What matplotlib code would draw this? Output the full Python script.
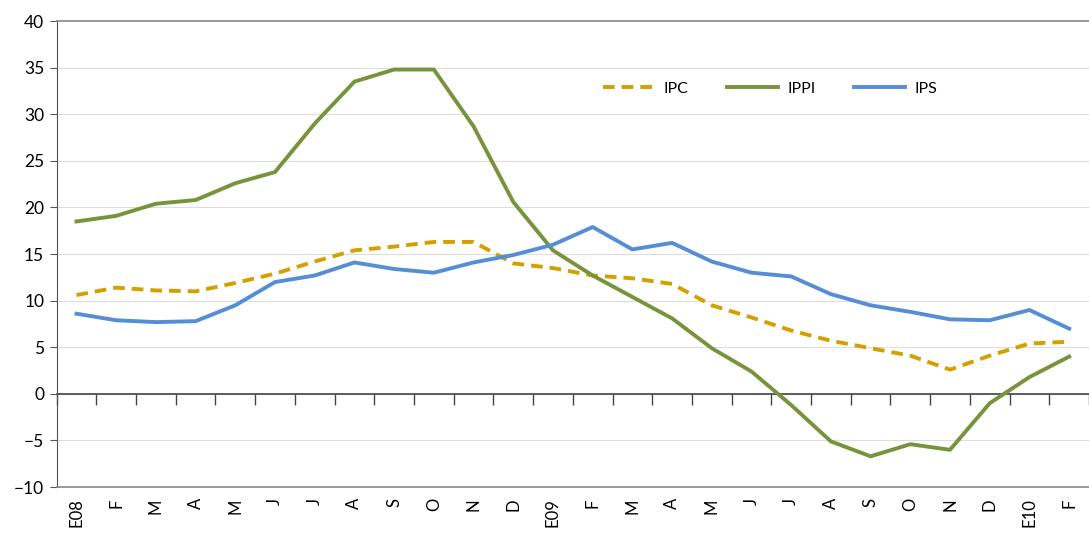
import matplotlib
matplotlib.use("Agg")
import matplotlib.pyplot as plt
import numpy as np

# monthly categories, Jan 2008 .. Feb 2010
months = ["E08", "F", "M", "A", "M", "J", "J", "A", "S", "O", "N", "D",
          "E09", "F", "M", "A", "M", "J", "J", "A", "S", "O", "N", "D",
          "E10", "F"]

ipc = [10.6, 11.4, 11.1, 11.0, 11.9, 12.9, 14.2, 15.4, 15.8, 16.3, 16.3, 14.0,
       13.5, 12.7, 12.4, 11.8, 9.5, 8.2, 6.8, 5.7, 4.9, 4.1, 2.6, 4.1,
       5.4, 5.6]
ippi = [18.5, 19.1, 20.4, 20.8, 22.6, 23.8, 29.0, 33.5, 34.8, 34.8, 28.7, 20.6,
        15.4, 12.7, 10.4, 8.1, 4.9, 2.4, -1.2, -5.1, -6.7, -5.4, -6.0, -1.0,
        1.8, 4.0]
ips = [8.6, 7.9, 7.7, 7.8, 9.5, 12.0, 12.7, 14.1, 13.4, 13.0, 14.1, 14.9,
       16.0, 17.9, 15.5, 16.2, 14.2, 13.0, 12.6, 10.7, 9.5, 8.8, 8.0, 7.9,
       9.0, 7.0]

plt.rcParams['font.family'] = ['Lato', 'DejaVu Sans']

fig = plt.figure(figsize=(10.89, 5.40), dpi=100)
ax = fig.add_axes([0.052, 0.098, 0.948, 0.863])

x = np.arange(len(months))
ax.plot(x, ipc, color="#D4A000", lw=2.8, dashes=(3.0, 1.8), label="IPC")
ax.plot(x, ippi, color="#77933C", lw=2.8, label="IPPI")
ax.plot(x, ips, color="#558ED5", lw=2.8, label="IPS")

ax.set_xlim(-0.5, len(months) - 0.5)
ax.set_ylim(-10, 40)
ax.set_yticks(range(-10, 41, 5))
ax.tick_params(axis="y", labelsize=12.5, length=5, color="#555555", pad=4)
for y in range(-5, 40, 5):
    ax.axhline(y, color="#dddddd", lw=0.8, zorder=0)

ax.set_xticks(x)
ax.set_xticklabels(months, rotation=90, fontsize=12)
ax.tick_params(axis="x", length=0, pad=8)

for side in ["top", "bottom"]:
    ax.spines[side].set_color("#888888")
    ax.spines[side].set_linewidth(1.2)
ax.spines["right"].set_visible(False)
ax.spines["left"].set_color("#555555")

# category axis drawn through zero with ticks between months
zero_ax = ax.secondary_xaxis(0.2)
zero_ax.set_xticks(np.arange(-0.5, len(months), 1.0))
zero_ax.set_xticklabels([])
zero_ax.tick_params(length=8, color="#444444", width=1)
zero_ax.spines["bottom"].set_color("#444444")
zero_ax.spines["bottom"].set_linewidth(1.2)

ax.legend(loc="center left", bbox_to_anchor=(0.515, 0.855), ncol=3,
          frameon=False, fontsize=11.5, handlelength=3.2, handletextpad=0.6,
          columnspacing=2.4)

fig.savefig("out.png", dpi=100)
